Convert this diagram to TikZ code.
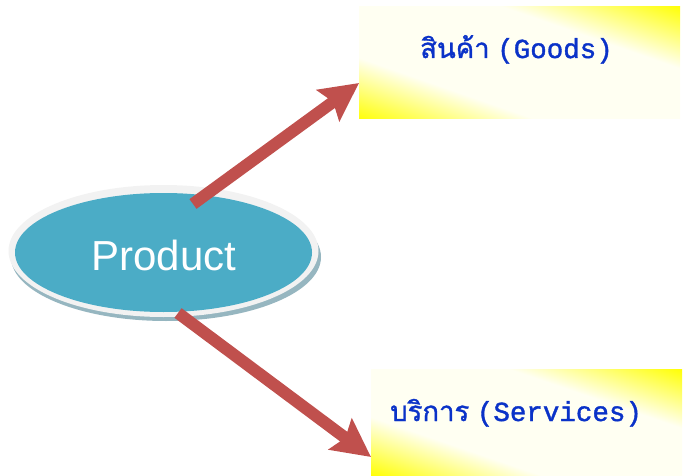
\documentclass[tikz,border=0pt]{standalone}
\usepackage{fontspec}
\setmainfont{Liberation Sans}
\newfontfamily\thaifont[Script=Thai,FakeBold=1.2]{Loma}
\newfontfamily\latmono[FakeBold=1.4]{Liberation Mono}
\usetikzlibrary{arrows.meta}
\definecolor{teal1}{RGB}{75,172,198}
\definecolor{ringgrey}{RGB}{242,242,242}
\definecolor{shadowblue}{RGB}{150,182,192}
\definecolor{arrowred}{RGB}{192,80,77}
\definecolor{textblue}{RGB}{10,50,200}
\definecolor{yel}{RGB}{255,255,0}
\pgfdeclareverticalshading{ywy}{100bp}{color(0bp)=(yel); color(25bp)=(yel); color(39bp)=(yel!5); color(61bp)=(yel!5); color(75bp)=(yel); color(100bp)=(yel)}
\tikzset{
  bigarrow/.style={line width=12pt, draw=arrowred, -{Stealth[length=38pt,width=38pt,inset=6pt,fill=arrowred]}},
  labeltext/.style={text=textblue, inner sep=0pt, font=\fontsize{27.5}{30}\selectfont}
}
\begin{document}
\begin{tikzpicture}[x=1pt,y=-1pt]
\useasboundingbox (0,0) rectangle (685,476);
% box 1
\begin{scope}
  \clip (359,7) rectangle (680,119);
  \begin{scope}[transform canvas={shift={(519.5,63)},rotate=-19.2}]
    \shade[shading=ywy] (-220,-108) rectangle (220,108);
  \end{scope}
\end{scope}
\node[inner sep=0pt, minimum width=321pt, minimum height=112pt] (goods) at (519.5,63) {};
% box 2
\begin{scope}
  \clip (371,369) rectangle (682,476);
  \begin{scope}[transform canvas={shift={(526.5,422.5)},rotate=-18.9}]
    \shade[shading=ywy] (-220,-102) rectangle (220,102);
  \end{scope}
\end{scope}
\node[inner sep=0pt, minimum width=311pt, minimum height=107pt] (serv) at (526.5,422.5) {};
% ellipse
\fill[shadowblue] (166,257) ellipse [x radius=155, y radius=64];
\fill[ringgrey] (163.5,251) ellipse [x radius=155, y radius=66];
\fill[teal1] (163.5,252.5) ellipse [x radius=148.5, y radius=59.5];
\node[inner sep=0pt] (prod) at (163.5,252.5) {};
% arrows
\coordinate (t1) at (193,204);
\coordinate (h1) at (359,83);
\coordinate (t2) at (178,313);
\coordinate (h2) at (371,457);
\draw[bigarrow] (t1) -- (h1);
\draw[bigarrow] (t2) -- (h2);
% texts
\node[anchor=base, text=white, inner sep=0pt, font=\fontsize{42}{46}\selectfont] (ptext) at (164,270) {Product};
\node[labeltext, anchor=base west] (gtext) at (420,58) {{\thaifont สินค้า} {\latmono (Goods)}};
\node[labeltext, anchor=base west] (stext) at (390,421) {{\thaifont บริการ} {\latmono (Services)}};
\end{tikzpicture}
\end{document}
